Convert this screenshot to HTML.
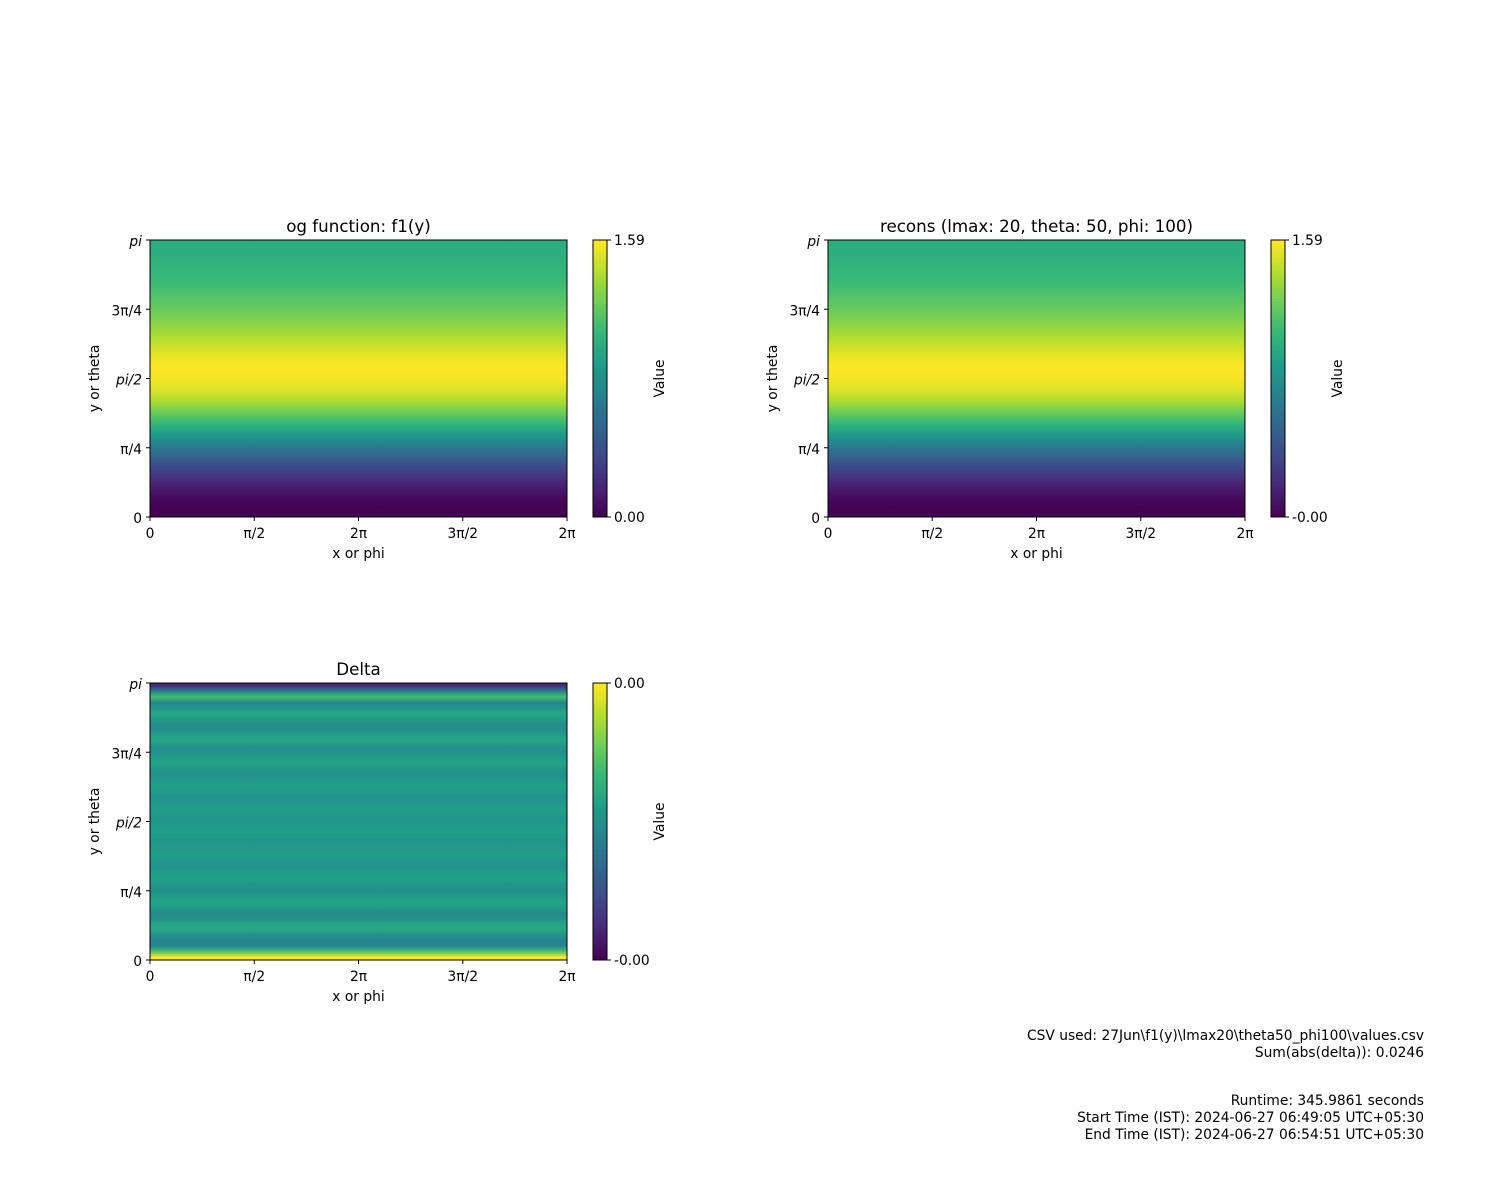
<!DOCTYPE html>
<html><head><meta charset="utf-8">
<style>
html,body{margin:0;padding:0;background:#fff;}
svg{display:block;font-family:"DejaVu Sans","Liberation Sans",sans-serif;}
</style></head>
<body>
<svg id="fig" width="1500" height="1200" viewBox="0 0 1500 1200" xmlns="http://www.w3.org/2000/svg">
<rect width="1500" height="1200" fill="#fff"/>
<defs id="defs"></defs>
<g font-size="13.8" fill="#000" text-anchor="end">
<text x="1424" y="1040">CSV used: 27Jun\f1(y)\lmax20\theta50_phi100\values.csv</text>
<text x="1424" y="1057">Sum(abs(delta)): 0.0246</text>
<text x="1424" y="1105">Runtime: 345.9861 seconds</text>
<text x="1424" y="1122">Start Time (IST): 2024-06-27 06:49:05 UTC+05:30</text>
<text x="1424" y="1139">End Time (IST): 2024-06-27 06:54:51 UTC+05:30</text>
</g>
</svg>
<script>
// normalized colormap fractions, bottom (theta=0) -> top (theta=pi)
const ogValues = [0.0,0.02,0.07,0.14,0.22,0.32,0.43,0.55,0.67,0.78,0.88,0.95,0.99,1.0,0.97,0.92,0.87,0.82,0.78,0.74,0.70,0.67,0.65,0.63,0.62];
const reconValues = [0.0,0.02,0.07,0.14,0.22,0.32,0.43,0.55,0.67,0.78,0.88,0.95,0.99,1.0,0.97,0.92,0.87,0.82,0.78,0.74,0.70,0.67,0.65,0.63,0.62];
const deltaValues = [1.0,0.72,0.46,0.45,0.5,0.6,0.58,0.5,0.48,0.55,0.58,0.54,0.5,0.52,0.57,0.56,0.52,0.51,0.55,0.56,0.53,0.52,0.55,0.56,0.53,0.52,0.55,0.56,0.52,0.51,0.55,0.57,0.53,0.5,0.53,0.58,0.55,0.5,0.51,0.58,0.57,0.5,0.48,0.55,0.6,0.52,0.47,0.7,0.45,0.12];
const xTickLabels = ["0","π/2","2π","3π/2","2π"];
const yTickLabels = ["0","π/4","pi/2","3π/4","pi"];

const vir=[[68,1,84],[72,40,120],[62,74,137],[49,104,142],[38,130,142],[31,158,137],[53,183,121],[109,205,89],[180,222,44],[253,231,37]];
function cmap(t){t=Math.max(0,Math.min(1,t));const p=t*(vir.length-1),i=Math.min(Math.floor(p),vir.length-2),f=p-i;
 const c=vir[i].map((v,k)=>Math.round(v+(vir[i+1][k]-v)*f));return `rgb(${c[0]},${c[1]},${c[2]})`;}
const NS="http://www.w3.org/2000/svg",svg=document.getElementById('fig'),defs=document.getElementById('defs');
function el(tag,attrs,parent,txt){const e=document.createElementNS(NS,tag);for(const k in attrs)e.setAttribute(k,attrs[k]);if(txt!==undefined)e.textContent=txt;(parent||svg).appendChild(e);return e;}

function panel(name,x0,y0,title,vals,cbTop,cbBot){
 const W=417,H=277,g=el('g',{});
 
 
 const n=vals.length;
 const grad=el('linearGradient',{id:'gr-'+name,x1:0,y1:1,x2:0,y2:0},defs);
 vals.forEach((v,i)=>{el('stop',{offset:((i+0.5)/n).toFixed(4),'stop-color':cmap(v)},grad);});
 const hm=el('rect',{x:x0,y:y0,width:W,height:H,fill:`url(#gr-${name})`},g);
 
 
 el('rect',{x:x0,y:y0,width:W,height:H,fill:'none',stroke:'#000','stroke-width':1},g);
 xTickLabels.forEach((l,i)=>{const x=x0+i*W/4;el('line',{x1:x,x2:x,y1:y0+H,y2:y0+H+4,stroke:'#000'},g);
  const t=el('text',{x:x,y:y0+H+21,'font-size':13.8,'text-anchor':'middle'},g,l);
  
  });
 yTickLabels.forEach((l,i)=>{const y=y0+H-i*H/4;el('line',{x1:x0-4,x2:x0,y1:y,y2:y,stroke:'#000'},g);
  const t=el('text',{x:x0-8,y:y+6,'font-size':13.8,'text-anchor':'end','font-style':(l==='pi'||l==='pi/2')?'italic':'normal'},g,l);
  
  });
 const tt=el('text',{x:x0+W/2,y:y0-8,'font-size':16.7,'text-anchor':'middle'},g,title);
 
 
 const xl=el('text',{x:x0+W/2,y:y0+H+41,'font-size':13.8,'text-anchor':'middle'},g,'x or phi');
 
 
 const yl=el('text',{x:0,y:0,'font-size':13.8,'text-anchor':'middle',transform:`translate(${x0-51},${y0+H/2}) rotate(-90)`},g,'y or theta');
 
 
 const cx=x0+443,cw=14,cb=el('g',{},g);
 
 
 for(let i=0;i<100;i++){el('rect',{x:cx,y:y0+H-(i+1)*H/100-0.3,width:cw,height:H/100+0.6,fill:cmap(i/99)},cb);}
 el('rect',{x:cx,y:y0,width:cw,height:H,fill:'none',stroke:'#000'},cb);
 [[y0,cbTop],[y0+H,cbBot]].forEach(([y,l])=>{el('line',{x1:cx+cw,x2:cx+cw+4,y1:y,y2:y,stroke:'#000'},cb);
  el('text',{x:cx+cw+7,y:y+5,'font-size':13.8},cb,l);});
 const vl=el('text',{x:0,y:0,'font-size':13.8,'text-anchor':'middle',transform:`translate(${cx+cw+57},${y0+H/2}) rotate(-90)`},cb,'Value');
 
 
}
panel('og-function',150,240,'og function: f1(y)',ogValues,'1.59','0.00');
panel('recons',828,240,'recons (lmax: 20, theta: 50, phi: 100)',reconValues,'1.59','-0.00');
panel('delta',150,683,'Delta',deltaValues,'0.00','-0.00');
</script>
</body></html>
